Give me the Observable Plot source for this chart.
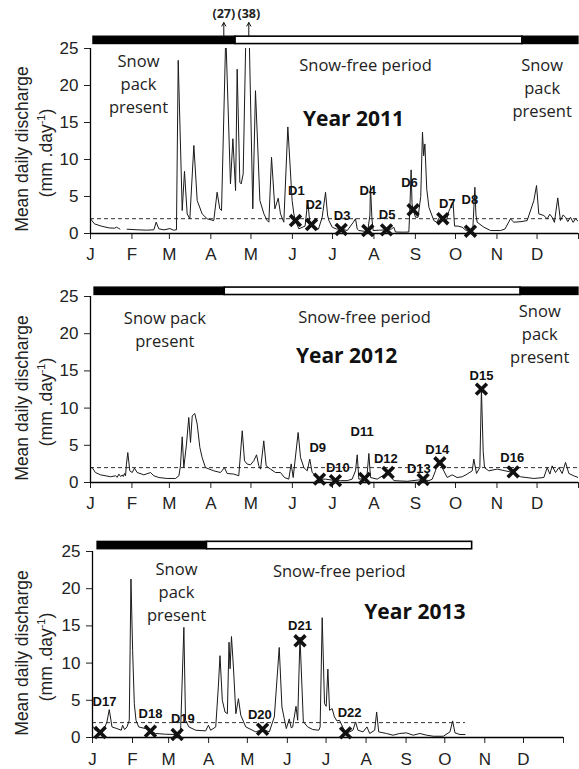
<!DOCTYPE html>
<html><head><meta charset="utf-8">
<script src="https://cdn.jsdelivr.net/npm/d3@7"></script>
<script src="https://cdn.jsdelivr.net/npm/@observablehq/plot@0.6"></script>
<style>
body{margin:0;background:#fff}
#chart{width:579px;height:769px;overflow:hidden}
#chart svg{display:block}
</style></head><body><div id="chart"></div>
<script>
// ---- shared axis values ----
const monthStarts = [0,31,59,90,120,151,181,212,243,273,304,334,365];
const monthLetters = ["J","F","M","A","M","J","J","A","S","O","N","D",""];
const yTicks = [0,5,10,15,20,25];
const threshold = 2;

// ---- daily discharge (day of year, mm/day) ----
const q2011 = [[0,1.98],[3,1.3],[8,1.0],[14,0.75],[18,0.72],[19.5,0.85],[21,0.7],[22,0.6],[24.5,NaN],[27.4,0.58],[35,0.5],[42,0.45],[47.4,0.5],[49.1,1.53],[51.1,0.63],[54.9,0.49],[59.4,0.67],[62,0.45],[64.3,0.5],[65.6,23.4],[68.6,3.1],[70.3,8.4],[72.3,2.65],[74.3,1.98],[77.3,11.9],[79.8,4.45],[83.5,2.65],[87.3,1.98],[92.2,1.75],[94.7,5.58],[96.7,3.33],[98,3.1],[101.2,27],[104.7,6.7],[106.5,12.8],[108.5,5.8],[109.7,22.2],[111.7,6.93],[112.7,6.7],[114.2,8.05],[117.4,38],[121.4,3.33],[123.4,19.3],[126.7,4.45],[129.7,2.65],[132.2,1.75],[133.4,1.53],[135.4,10.3],[137.9,3.33],[140.4,4.77],[142.1,2.65],[144.6,1.53],[147.6,14.4],[150.8,4.45],[152.1,2.65],[153.3,1.75],[155.8,0.63],[160.5,1.0],[162.5,4.45],[164,1.5],[165.3,1.21],[168,0.5],[170.5,0.6],[173.3,2.2],[175.8,5.58],[177.3,2.5],[178.3,1.75],[180.8,0.85],[184,0.6],[187.5,0.63],[192,0.4],[196.5,1.5],[198.2,2.0],[199.5,0.6],[200.7,0.4],[205,0.3],[207.4,0.4],[209,2.5],[209.4,6.48],[210.5,2.0],[211.4,0.4],[216,0.45],[221.4,0.49],[225,0.6],[226.9,0.85],[228.1,0.2],[234,0.18],[238.1,0.2],[238.8,3.0],[239.8,8.6],[240.5,4.0],[241.3,3.2],[243.1,2.2],[245,2.2],[247,5],[248.3,13.7],[249.2,10.5],[250.1,12.1],[251.5,6],[253.1,3.55],[256.8,1.75],[259,1.5],[261,2.2],[263.5,2.1],[266,1.6],[268,3],[271.2,4.2],[272.3,1.0],[275,1.0],[278,0.85],[281,0.4],[284.2,0.31],[286,0.8],[287.5,6.25],[288.3,2.5],[289.2,1.53],[294.2,0.85],[299.2,0.4],[306.7,0.4],[310,0.6],[314.1,1.98],[316.6,1.53],[322,1.6],[326.6,1.75],[331.6,4.45],[333.6,6.48],[335.3,2.65],[339.1,2.43],[341.6,1.98],[343.5,2.6],[345.3,2.2],[347,1.5],[349.5,4.81],[351.5,1.75],[353.5,2.5],[355.3,2.2],[357,1.6],[359,2.2],[361,1.5],[362.8,2.0],[365,1.6]];

const q2012 = [[0,2.0],[1.2,2.0],[3.7,1.34],[7.5,1.03],[15,0.77],[18.7,0.9],[20,0.7],[21.2,1.13],[22.5,0.8],[23.7,1.0],[24.5,0.8],[25.4,1.21],[26.2,0.9],[26.9,2.47],[27.9,4.03],[29.4,1.57],[31.2,1.34],[32.9,1.93],[34.9,1.34],[39.9,1.03],[44.9,1.34],[47.4,0.9],[51.1,0.67],[57.3,0.54],[63.6,0.54],[66.1,0.9],[67.3,2.24],[68.6,6.14],[69.8,2.0],[71.8,5.16],[73.5,8.74],[74.8,5.38],[76.1,8.96],[78,9.27],[79.8,7.84],[81.8,4.7],[83.5,3.36],[86,2.0],[92.2,1.57],[97.2,1.34],[100.2,2.0],[102.2,1.21],[107.2,1.13],[110.9,0.9],[113.5,6.95],[115.2,2.92],[117.2,2.47],[119.7,2.38],[122.1,2.92],[124.2,3.72],[125.9,2.24],[127.2,1.8],[129.6,5.6],[131.4,2.24],[134.6,1.8],[138.4,1.34],[142.1,1.34],[145.1,0.67],[148.3,0.45],[150.1,2.5],[151.6,0.67],[155.3,6.72],[157.1,3.36],[159.6,2.0],[162.1,1.57],[164,3.14],[165.8,1.34],[171.3,0.45],[175.8,0.45],[183.2,0.25],[187,0.25],[192,0.25],[195.7,0.45],[198.2,1.57],[199.5,3.72],[200.7,0.45],[205,0.54],[206.9,1.1],[208.2,3.9],[209.4,0.67],[214.4,0.45],[222.6,1.34],[226.9,0.25],[236.9,0.16],[248.8,0.41],[253.1,0.25],[255.6,0.45],[258,1.57],[259.8,2.9],[261.3,2.65],[263,2.0],[266.8,0.67],[270.5,1.03],[274.2,0.67],[278,0.77],[281.7,1.13],[285.5,1.57],[286.7,3.14],[288.7,1.21],[291.2,2.0],[292.4,12.55],[293.7,4.2],[294.7,2.0],[297.9,1.57],[304.2,1.8],[316.1,1.34],[321.6,0.77],[331.6,0.54],[339.1,0.67],[341.6,2.0],[343.6,1.13],[345.3,2.24],[347.8,1.34],[350.3,2.0],[352.8,1.21],[355.3,2.7],[357.8,1.21],[361.5,0.9],[364.8,0.67]];

const q2013 = [[0.8,1.42],[2.1,0.98],[6,0.67],[8.6,0.98],[11.2,2.09],[13,3.75],[15.1,1.42],[18.9,1.2],[22.3,0.98],[23.3,1.65],[24.9,1.07],[26.7,1.42],[28.5,2.32],[29.8,21.3],[31.1,11.7],[32.4,4.55],[33.7,2.32],[35.8,1.42],[41,1.2],[44.9,0.84],[48.8,0.54],[56.6,0.44],[65.6,0.4],[68.2,0.54],[70.8,14.8],[72.1,2.32],[74.7,1.42],[79.9,0.98],[87.7,0.89],[89.8,1.65],[91.6,0.98],[95.5,1.42],[97.5,6.78],[98.8,11.0],[100.6,5.0],[102.7,3.43],[104.5,3.2],[105.8,12.8],[106.6,9.24],[107.7,13.57],[109.2,9.46],[111.1,3.2],[113.1,5.22],[114.9,2.99],[118.8,1.42],[126.6,0.75],[131.8,1.11],[137,0.75],[140.9,2.77],[144.7,12.1],[146.8,4.1],[148.6,2.54],[150.2,1.2],[152.5,2.5],[154,1.3],[155.1,1.4],[157.7,4.19],[159,2.32],[160.8,13.5],[163.4,2.09],[166.8,1.42],[170.7,1.07],[175.4,0.98],[176.4,1.42],[178,16.1],[179.8,4.55],[181.1,4.19],[182.4,9.2],[183.7,3.66],[185.7,3.88],[187.5,2.77],[189.4,2.23],[191.4,2.32],[196.1,0.62],[199.2,0.75],[201.8,0.98],[203.9,2.09],[205.7,0.98],[209.6,0.75],[212.7,1.42],[214.8,0.54],[218.7,0.98],[220.2,3.43],[221.8,0.75],[227.8,0.54],[232.9,0.31],[238.1,0.54],[243.3,0.62],[248.5,0.31],[253.7,0.54],[258.9,0.31],[264.1,0.17],[271.8,0.17],[277,0.75],[279.1,2.23],[280.9,0.62],[284.8,0.4],[288.7,0.4]];

// ---- sampling dates (marker day, discharge, label anchor) ----
const events2011 = [
  {id:"D1",day:153.3,q:1.75,lday:154,lq:5.8},{id:"D2",day:165.3,q:1.21,lday:167,lq:3.9},
  {id:"D3",day:187.5,q:0.55,lday:188.2,lq:2.4},{id:"D4",day:207.4,q:0.4,lday:207.4,lq:5.7},
  {id:"D5",day:221.4,q:0.49,lday:221.9,lq:2.5},{id:"D6",day:241.3,q:3.2,lday:238.6,lq:6.9},
  {id:"D7",day:263.5,q:2.0,lday:266.8,lq:4.0},{id:"D8",day:284.2,q:0.31,lday:283.7,lq:4.6}];
const events2012 = [
  {id:"D9",day:171.3,q:0.45,lday:170,lq:4.7},{id:"D10",day:183.2,q:0.25,lday:185,lq:1.93},
  {id:"D11",day:205,q:0.54,lday:203.2,lq:6.86},{id:"D12",day:222.6,q:1.34,lday:220.9,lq:3.14},
  {id:"D13",day:248.8,q:0.41,lday:245.6,lq:1.8},{id:"D14",day:261.3,q:2.65,lday:259.3,lq:4.4},
  {id:"D15",day:292.4,q:12.55,lday:292.4,lq:14.3},{id:"D16",day:316.1,q:1.43,lday:315.4,lq:3.36}];
const events2013 = [
  {id:"D17",day:6,q:0.67,lday:9.3,lq:4.77},{id:"D18",day:44.9,q:0.84,lday:44.9,lq:3.2},
  {id:"D19",day:65.6,q:0.4,lday:70,lq:2.54},{id:"D20",day:131.8,q:1.11,lday:129.7,lq:2.99},
  {id:"D21",day:160.8,q:13.0,lday:160.8,lq:15.0},{id:"D22",day:196.1,q:0.62,lday:199.2,lq:3.35}];

// ---- snow cover periods (day of year) ----
const snow2011 = [{start:2.2,end:108.5,snow:true},{start:108.5,end:323,snow:false},{start:323,end:365,snow:true}];
const snow2012 = [{start:3,end:100.4,snow:true},{start:100.4,end:321.6,snow:false},{start:321.6,end:365,snow:true}];
const snow2013 = [{start:3.9,end:88.7,snow:true},{start:88.7,end:294.2,snow:false}];

// ---- off-scale peaks (2011) ----
const offPeaks2011 = [{day:99.7,label:"(27)"},{day:118.4,label:"(38)"}];

// ---- annotations ----
const notes2011 = [{text:"Snow\npack\npresent",day:35.9,q:20.4},{text:"Snow-free period",day:205.7,q:22.9},{text:"Snow\npack\npresent",day:337.8,q:19.8}];
const notes2012 = [{text:"Snow pack\npresent",day:55.6,q:20.8},{text:"Snow-free period",day:204.9,q:22.4},{text:"Snow\npack\npresent",day:336,q:20.2}];
const notes2013 = [{text:"Snow\npack\npresent",day:65.1,q:19.7},{text:"Snow-free period",day:191.2,q:22.6}];
const titles = [{text:"Year 2011",day:196.7,q:15.5},{text:"Year 2012",day:191.5,q:17.0},{text:"Year 2013",day:249.8,q:16.8}];

const SANS = "Liberation Sans, Arial, sans-serif";
const OPEN = "Open Sans, sans-serif";
const letterOf = new Map(monthStarts.map((d,i)=>[d,monthLetters[i]]));

function panel(cfg){
  const marks = [
    Plot.ruleY([threshold],{x1:0,x2:cfg.dashEnd,stroke:"#333",strokeWidth:1,strokeDasharray:"4,3"}),
    Plot.line(cfg.data,{x:d=>d[0],y:d=>d[1],stroke:"#1a1a1a",strokeWidth:1,clip:true}),
    Plot.ruleX([0],{y1:0,y2:25,stroke:"#000",strokeWidth:1.3}),
    Plot.ruleY([0],{x1:0,x2:365,stroke:"#000",strokeWidth:1.3}),
    Plot.rect(cfg.snow.filter(d=>d.snow),{x1:"start",x2:"end",y1:cfg.bar[0],y2:cfg.bar[1],fill:"#000",stroke:"#000",strokeWidth:1.3}),
    Plot.rect(cfg.snow.filter(d=>!d.snow),{x1:"start",x2:"end",y1:cfg.bar[0],y2:cfg.bar[1],fill:"#fff",stroke:"#000",strokeWidth:1.6}),
    Plot.text(cfg.notes,{x:"day",y:"q",text:"text",fontFamily:OPEN,fontSize:16.5,lineHeight:1.4,fill:"#222"}),
    Plot.text([cfg.title],{x:"day",y:"q",text:"text",fontFamily:OPEN,fontWeight:"bold",fontSize:21,fill:"#111"}),
    Plot.dot(cfg.events,{x:"day",y:"q",symbol:"times",r:5,stroke:"#111",strokeWidth:3.6}),
    Plot.text(cfg.events,{x:"lday",y:"lq",text:"id",fontFamily:SANS,fontWeight:"bold",fontSize:13,fill:"#111"})
  ];
  if (cfg.offPeaks) {
    marks.push(Plot.arrow(cfg.offPeaks,{x:"day",y1:cfg.bar[1],y2:28.5,stroke:"#111",strokeWidth:1,headLength:6}));
    marks.push(Plot.text(cfg.offPeaks,{x:"day",y:29.6,text:"label",fontFamily:OPEN,fontWeight:"bold",fontSize:12.5,fill:"#222"}));
  }
  const svg = Plot.plot({
    width:579, height:cfg.height,
    marginTop:cfg.mt, marginBottom:cfg.mb, marginLeft:cfg.ml, marginRight:cfg.mr,
    style:{fontFamily:SANS,fontSize:"17px",color:"#222",background:"#fff",overflow:"visible"},
    x:{domain:[0,365],ticks:monthStarts,tickFormat:d=>letterOf.get(d),tickSize:6,tickPadding:cfg.xpad,label:null},
    y:{domain:[0,25],ticks:yTicks,tickSize:6,tickPadding:6,label:null},
    marks
  });
  const y0 = cfg.height - cfg.mb;
  const s = d3.select(svg);
  s.append("text").attr("transform",`translate(28,${y0-84}) rotate(-90)`)
    .attr("text-anchor","middle").attr("font-family",SANS).attr("font-size",17.5).attr("fill","#222")
    .text("Mean daily discharge");
  const t = s.append("text").attr("transform",`translate(52,${y0-80}) rotate(-90)`)
    .attr("text-anchor","middle").attr("font-family",SANS).attr("font-size",17.5).attr("fill","#222");
  t.append("tspan").text("(mm .day");
  t.append("tspan").attr("font-size",11).attr("dy",-7).text("-1");
  t.append("tspan").attr("dy",7).text(")");
  return svg;
}

const chart = document.getElementById("chart");
chart.appendChild(panel({data:q2011,events:events2011,snow:snow2011,notes:notes2011,title:titles[0],offPeaks:offPeaks2011,
  height:258,mt:48,mb:25,ml:90,mr:1,xpad:8,dashEnd:365,bar:[25.6,26.6]}));
chart.appendChild(panel({data:q2012,events:events2012,snow:snow2012,notes:notes2012,title:titles[1],
  height:252,mt:38,mb:28,ml:90,mr:1,xpad:8,dashEnd:365,bar:[25.2,26.2]}));
chart.appendChild(panel({data:q2013,events:events2013,snow:snow2013,notes:notes2013,title:titles[2],
  height:259,mt:41,mb:32,ml:92,mr:16,xpad:9,dashEnd:289,bar:[25.3,26.3]}));
</script></body></html>
